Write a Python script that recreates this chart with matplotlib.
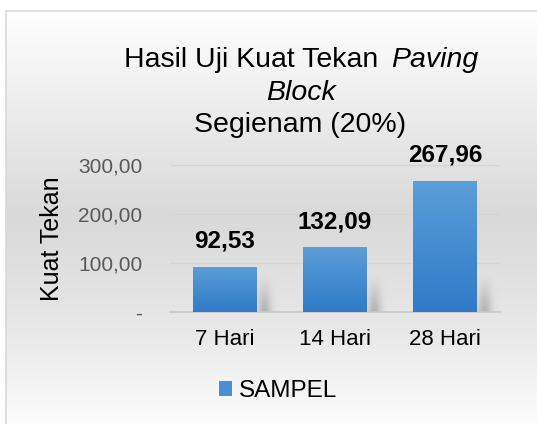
import numpy as np
import matplotlib
matplotlib.use("Agg")
import matplotlib.pyplot as plt
from matplotlib.colors import LinearSegmentedColormap
from matplotlib.patches import Rectangle

plt.rcParams['font.family'] = ['Liberation Sans', 'DejaVu Sans']

categories = ["7 Hari", "14 Hari", "28 Hari"]
values = [92.53, 132.09, 267.96]
value_labels = ["92,53", "132,09", "267,96"]
yticks = [0, 100, 200, 300]
ytick_labels = ["-", "100,00", "200,00", "300,00"]
series_name = "SAMPEL"

W, H = 537, 424
fig = plt.figure(figsize=(W / 100, H / 100), dpi=100)
fig.patch.set_facecolor("white")

# background chart area with vertical gradient
bg = fig.add_axes([6 / W, 0, 1 - 6 / W, 1 - 11 / H], zorder=0)
stops_y = np.array([0, 90, 205, 320, 413]) / 413.0
stops_c = np.array([255, 238, 217, 232, 252]) / 255.0
yy = np.linspace(0, 1, 400)
g = np.interp(yy, stops_y, stops_c)
img = np.dstack([g, g, g]).reshape(400, 1, 3)
bg.imshow(img, aspect="auto", extent=[0, 1, 0, 1], origin="upper")
bg.set_xlim(0, 1)
bg.set_ylim(0, 1)
bg.set_xticks([])
bg.set_yticks([])
for s in ["right", "bottom"]:
    bg.spines[s].set_visible(False)
for s in ["left", "top"]:
    bg.spines[s].set_color("#d9d9d9")
    bg.spines[s].set_linewidth(1.2)

# main axes
ax = fig.add_axes([170 / W, 1 - 312 / H, 330 / W, 147 / H], zorder=2)
ax.patch.set_alpha(0)
x = np.arange(len(categories))
bars = ax.bar(x, values, width=0.58, color="#4a8fd4", zorder=3)

cmap = LinearSegmentedColormap.from_list("bar", ["#2f7bc8", "#5c9ed8"])
grad = np.linspace(0, 1, 256).reshape(256, 1)
for b in bars:
    x0, y0 = b.get_x(), b.get_y()
    w, h = b.get_width(), b.get_height()
    im = ax.imshow(grad, cmap=cmap, aspect="auto", origin="lower",
                   extent=[x0, x0 + w, y0, y0 + h], zorder=3.5)
    im.set_clip_path(b)
    # soft shadow to the right
    sh = np.linspace(0, 1, 64)
    alpha = np.outer(np.linspace(0.5, 0.0, 32), np.exp(-((sh - 0.25) ** 2) / 0.06))
    shimg = np.zeros((32, 64, 4))
    shimg[:, :, :3] = 0.5
    shimg[:, :, 3] = alpha
    ax.imshow(shimg, aspect="auto", origin="lower",
              extent=[x0 + w, x0 + w + 0.26, 0, 75], zorder=2.5)

ax.set_xlim(-0.5, len(categories) - 0.5)
ax.set_ylim(0, 300)

for xi, v, lab in zip(x, values, value_labels):
    ax.annotate(lab, (xi, v), xytext=(0, 10), textcoords="offset points",
                ha="center", va="bottom", fontsize=17.5, fontweight="bold",
                color="black", zorder=5)

ax.set_yticks(yticks)
ax.set_yticklabels(ytick_labels)
ax.set_xticks(x)
ax.set_xticklabels(categories)
ax.tick_params(axis="y", length=0, pad=20, labelsize=15, labelcolor="#595959")
ax.tick_params(axis="x", length=0, pad=12, labelsize=16, labelcolor="black")
ax.yaxis.grid(True, color="#d4d4d4", linewidth=1, zorder=1)
ax.set_axisbelow(True)
for s in ["left", "right", "top"]:
    ax.spines[s].set_visible(False)
ax.spines["bottom"].set_color("#c8c8c8")
ax.spines["bottom"].set_linewidth(1.2)

# y label
fig.text(52 / W, 1 - 239 / H, "Kuat Tekan", rotation=90, ha="center", va="center",
         fontsize=18, color="black", zorder=5)

# title
fig.text(124 / W, 1 - 67 / H, "Hasil Uji Kuat Tekan", ha="left", va="baseline",
         fontsize=20.5, color="black")
fig.text(478 / W, 1 - 67 / H, "Paving", ha="right", va="baseline",
         fontsize=20.5, color="black", style="italic")
fig.text(301 / W, 1 - 100 / H, "Block", ha="center", va="baseline",
         fontsize=20.5, color="black", style="italic")
fig.text(300 / W, 1 - 132 / H, "Segienam (20%)", ha="center", va="baseline",
         fontsize=20.5, color="black")

# legend
handle = Rectangle((0, 0), 1, 1, facecolor="#4a8fd4")
fig.legend([handle], [series_name], loc="center", bbox_to_anchor=(278 / W, 1 - 391 / H),
           frameon=False, fontsize=17.5, handlelength=0.55, handleheight=0.55,
           handletextpad=0.3, borderaxespad=0)

fig.savefig("out.png", dpi=100)
